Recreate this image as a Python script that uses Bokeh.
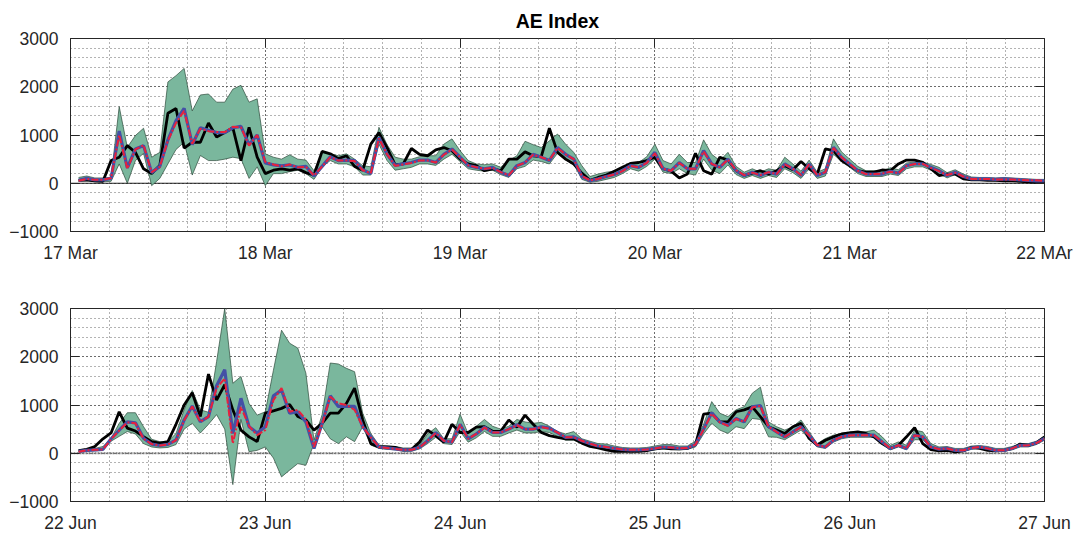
from bokeh.plotting import figure
from bokeh.models import FixedTicker, LinearAxis, Span, Range1d
from bokeh.layouts import column
from bokeh.embed import file_html
from bokeh.resources import INLINE

# ---------------- data ----------------
HOURS = list(range(1, 121))
DAY_TICKS = [0, 24, 48, 72, 96, 120]
MAR_LABELS = ["17 Mar", "18 Mar", "19 Mar", "20 Mar", "21 Mar", "22 MAr"]
JUN_LABELS = ["22 Jun", "23 Jun", "24 Jun", "25 Jun", "26 Jun", "27 Jun"]
Y_TICKS = [-1000, 0, 1000, 2000, 3000]

obs_mar = [60, 70, 50, 40, 470, 540, 780, 640, 300, 200,
           370, 1450, 1550, 730, 850, 850, 1250, 960, 1050, 1150,
           470, 1160, 540, 200, 270, 300, 270, 300, 220, 170,
           660, 610, 510, 570, 350, 270, 810, 1050, 740, 380,
           400, 720, 600, 570, 690, 740, 675, 500, 400, 365,
           260, 300, 260, 500, 500, 650, 570, 550, 1140, 640,
           500, 400, 210, 60, 120, 170, 250, 330, 410, 430,
           470, 540, 300, 250, 110, 190, 620, 260, 190, 540,
           480, 260, 160, 210, 260, 190, 260, 365, 280, 450,
           300, 190, 710, 675, 470, 365, 260, 230, 230, 275,
           260, 400, 480, 480, 435, 300, 160, 190, 190, 90,
           70, 70, 60, 60, 50, 50, 40, 30, 20, 20]
mean_mar = [60, 100, 70, 70, 100, 1080, 320, 710, 780, 220,
            350, 900, 1300, 1550, 800, 1150, 1100, 1050, 1050, 1150,
            1180, 800, 1000, 420, 380, 360, 380, 330, 350, 150,
            350, 550, 470, 480, 470, 280, 200, 950, 600, 370,
            400, 430, 480, 480, 430, 600, 710, 540, 365, 330,
            300, 330, 230, 160, 365, 430, 600, 540, 470, 740,
            600, 500, 140, 55, 90, 140, 180, 260, 365, 330,
            430, 640, 300, 260, 430, 300, 300, 675, 400, 330,
            500, 260, 160, 230, 160, 230, 190, 400, 300, 160,
            400, 160, 230, 745, 540, 400, 260, 190, 190, 190,
            250, 210, 365, 400, 400, 330, 260, 160, 230, 140,
            90, 90, 90, 80, 90, 80, 70, 60, 50, 50]
med_mar = [50, 90, 70, 70, 110, 1000, 300, 700, 790, 230,
           340, 880, 1250, 1500, 820, 1130, 1080, 1060, 1060, 1170,
           1160, 780, 1000, 440, 390, 350, 390, 330, 340, 160,
           350, 540, 470, 470, 460, 270, 210, 930, 600, 360,
           390, 420, 470, 470, 430, 590, 700, 540, 370, 330,
           300, 320, 230, 170, 360, 430, 590, 540, 480, 730,
           600, 500, 150, 60, 90, 140, 180, 250, 360, 330,
           420, 620, 300, 260, 420, 300, 300, 660, 400, 330,
           490, 270, 170, 220, 170, 230, 190, 390, 300, 170,
           390, 170, 230, 730, 540, 400, 260, 190, 190, 200,
           240, 210, 360, 400, 400, 320, 250, 170, 220, 140,
           90, 90, 90, 80, 80, 80, 70, 60, 60, 50]
upper_mar = [120, 150, 110, 110, 120, 1590, 745, 990, 1140, 540,
             640, 2100, 2230, 2380, 1500, 1830, 1850, 1680, 1680, 1950,
             2030, 1680, 1750, 610, 540, 500, 590, 500, 480, 260,
             640, 610, 570, 610, 500, 365, 340, 1160, 800, 540,
             500, 500, 550, 570, 570, 810, 920, 675, 470, 400,
             385, 400, 330, 470, 570, 870, 800, 740, 880, 1020,
             810, 640, 365, 140, 190, 230, 250, 330, 430, 430,
             550, 810, 470, 400, 600, 430, 430, 900, 600, 470,
             640, 350, 230, 300, 230, 300, 270, 540, 400, 250,
             480, 230, 300, 920, 650, 500, 350, 260, 260, 260,
             320, 280, 420, 440, 440, 390, 330, 220, 280, 190,
             130, 120, 120, 110, 120, 110, 100, 90, 80, 80]
lower_mar = [40, 50, 30, 30, 40, 400, 0, 470, 620, -50,
             100, 400, 700, 850, 170, 575, 470, 470, 500, 540,
             510, 100, 340, -50, 200, 200, 240, 270, 200, 80,
             340, 470, 400, 400, 340, 170, 170, 810, 470, 270,
             300, 330, 400, 400, 370, 500, 600, 450, 300, 270,
             250, 270, 180, 120, 300, 350, 480, 450, 400, 620,
             480, 400, 80, 20, 40, 80, 120, 200, 300, 250,
             350, 500, 230, 200, 300, 200, 170, 500, 270, 200,
             380, 180, 100, 160, 100, 160, 120, 300, 220, 100,
             300, 100, 150, 600, 450, 330, 200, 140, 140, 140,
             190, 160, 300, 340, 340, 270, 200, 110, 180, 100,
             60, 60, 60, 50, 60, 50, 40, 30, 30, 30]

obs_jun = [55, 80, 140, 300, 420, 860, 520, 460, 345, 240,
           210, 240, 600, 1000, 1255, 760, 1640, 1100, 1420, 900,
           480, 340, 240, 830, 880, 930, 1010, 760, 690, 480,
           620, 830, 830, 1035, 1350, 690, 200, 130, 130, 120,
           70, 75, 230, 480, 365, 230, 600, 430, 430, 540,
           550, 455, 455, 690, 540, 790, 600, 430, 365, 330,
           300, 300, 210, 140, 110, 70, 40, 40, 40, 40,
           55, 90, 110, 90, 90, 100, 180, 810, 830, 650,
           650, 860, 900, 960, 760, 550, 480, 410, 550, 620,
           305, 165, 270, 340, 400, 420, 445, 410, 340, 200,
           100, 165, 340, 530, 200, 75, 50, 60, 30, 50,
           120, 100, 60, 50, 60, 100, 190, 165, 215, 340]
mean_jun = [40, 60, 70, 80, 300, 480, 650, 630, 310, 190,
            160, 185, 275, 690, 980, 655, 760, 1400, 1730, 410,
            1140, 550, 420, 550, 1190, 1310, 830, 860, 650, 100,
            620, 1190, 970, 970, 970, 550, 340, 130, 110, 90,
            70, 70, 125, 260, 430, 260, 230, 600, 300, 400,
            540, 430, 430, 500, 590, 500, 500, 550, 520, 430,
            330, 340, 260, 200, 150, 130, 100, 80, 70, 70,
            80, 100, 130, 120, 100, 110, 180, 500, 840, 650,
            580, 720, 650, 960, 990, 550, 445, 340, 445, 550,
            375, 165, 130, 270, 340, 375, 375, 375, 375, 235,
            100, 165, 100, 375, 340, 130, 85, 100, 60, 60,
            110, 130, 100, 60, 60, 100, 165, 165, 215, 305]
med_jun = [30, 60, 70, 80, 290, 470, 640, 620, 300, 190,
           160, 180, 270, 680, 970, 650, 760, 1350, 1550, 200,
           960, 560, 375, 480, 1100, 1350, 860, 900, 700, 130,
           600, 1170, 1035, 1000, 900, 550, 330, 130, 110, 90,
           70, 70, 120, 260, 420, 260, 230, 590, 300, 400,
           530, 430, 430, 500, 580, 500, 500, 540, 510, 430,
           330, 330, 260, 200, 150, 130, 100, 80, 70, 70,
           80, 100, 130, 120, 100, 110, 180, 490, 820, 640,
           570, 710, 650, 950, 980, 550, 440, 340, 440, 540,
           370, 170, 130, 270, 340, 370, 375, 375, 375, 240,
           100, 165, 100, 370, 340, 130, 85, 100, 60, 60,
           110, 130, 100, 60, 60, 100, 160, 165, 210, 300]
upper_jun = [70, 90, 100, 140, 310, 620, 840, 840, 550, 290,
             240, 240, 410, 900, 1300, 900, 850, 1900, 3000, 1450,
             1590, 1030, 790, 860, 1720, 2550, 2280, 2180, 1660, 270,
             800, 1870, 1850, 1760, 1690, 830, 410, 170, 150, 140,
             110, 110, 170, 400, 530, 300, 300, 810, 400, 560,
             700, 560, 500, 560, 700, 650, 620, 640, 560, 450,
             400, 450, 300, 250, 200, 190, 150, 120, 110, 110,
             120, 150, 180, 180, 150, 150, 250, 600, 1070, 830,
             760, 900, 965, 1245, 1370, 650, 550, 480, 550, 690,
             445, 200, 305, 375, 410, 445, 445, 445, 480, 340,
             165, 235, 165, 480, 445, 200, 130, 140, 100, 100,
             150, 160, 140, 100, 100, 140, 200, 200, 250, 350]
lower_jun = [20, 40, 50, 60, 250, 350, 450, 400, 200, 130,
             110, 120, 180, 500, 620, 420, 600, 800, 500, -650,
             700, 30, 60, 130, -100, -490, -350, -215, -250, 200,
             550, 300, 200, 340, 240, 550, 170, 100, 80, 70,
             40, 40, 90, 200, 330, 200, 180, 450, 230, 320,
             450, 350, 350, 420, 480, 420, 420, 450, 430, 350,
             270, 270, 200, 150, 110, 90, 60, 50, 40, 40,
             50, 70, 90, 80, 70, 80, 130, 400, 620, 480,
             410, 550, 510, 720, 700, 340, 330, 280, 380, 480,
             300, 130, 100, 230, 300, 330, 330, 330, 330, 200,
             70, 130, 70, 280, 280, 100, 60, 70, 40, 40,
             80, 100, 70, 40, 40, 70, 130, 130, 180, 270]

# ---------------- styling ----------------
FONT = "Liberation Sans"
AX = "#262626"
GREEN = "#7ab79d"
BLUE = "#4450a6"
RED = "#e8213c"


def make_panel(labels, obs, mean, med, lo, hi, top, bottom, zero_style, title=None):
    p = figure(frame_width=974, frame_height=193,
               x_range=Range1d(0, 120), y_range=Range1d(-1000, 3000),
               output_backend="svg", toolbar_location=None,
               min_border_left=70, min_border_right=36,
               min_border_top=top, min_border_bottom=bottom,
               background_fill_color="white", border_fill_color="white")
    if title:
        p.title.text = title
        p.title.align = "center"
        p.title.text_font = FONT
        p.title.text_font_size = "19.5px"
        p.title.text_font_style = "bold"
        p.title.text_color = "#000000"
        p.title.standoff = 5
    p.outline_line_color = AX
    p.outline_line_width = 1

    xt = FixedTicker(ticks=DAY_TICKS, minor_ticks=[i * 4.8 for i in range(26)])
    yt = FixedTicker(ticks=Y_TICKS, minor_ticks=list(range(-1000, 3001, 200)))

    p.xaxis.ticker = xt
    p.xaxis.major_label_overrides = {t: lab for t, lab in zip(DAY_TICKS, labels)}
    p.yaxis.ticker = yt
    for ax in (p.xaxis[0], p.yaxis[0]):
        ax.axis_line_color = AX
        ax.major_tick_line_color = AX
        ax.major_tick_in = 9
        ax.major_tick_out = 0
        ax.minor_tick_line_color = None
        ax.major_label_text_font = FONT
        ax.major_label_text_font_size = "17.5px"
        ax.major_label_text_color = AX
    p.xaxis.major_label_standoff = 7
    p.yaxis.major_label_standoff = 8

    # mirrored ticks on the top and right sides (labels not painted)
    top_ax = LinearAxis(ticker=xt, major_tick_in=9, major_tick_out=0,
                        major_tick_line_color=AX, minor_tick_line_color=None,
                        axis_line_color=None, major_label_text_font_size="2px",
                        major_label_text_color=None, major_label_standoff=0)
    right_ax = LinearAxis(ticker=yt, major_tick_in=9, major_tick_out=0,
                          major_tick_line_color=AX, minor_tick_line_color=None,
                          axis_line_color=None, major_label_text_font_size="2px",
                          major_label_text_color=None, major_label_standoff=0)
    p.add_layout(top_ax, "above")
    p.add_layout(right_ax, "right")

    p.xgrid.ticker = xt
    p.ygrid.ticker = yt
    for g in (p.xgrid[0], p.ygrid[0]):
        g.grid_line_color = "#222222"
        g.grid_line_dash = "1 3"
        g.grid_line_width = 1
        g.minor_grid_line_color = "#666666"
        g.minor_grid_line_dash = "1 3"
        g.minor_grid_line_width = 1

    zcol, zw, zdash = zero_style
    p.add_layout(Span(location=0, dimension="width", line_color=zcol,
                      line_width=zw, line_dash=zdash, level="underlay"))

    p.varea(x=HOURS, y1=lo, y2=hi, fill_color=GREEN, fill_alpha=1)
    p.line(HOURS, hi, line_color="#2c4a3b", line_width=0.7)
    p.line(HOURS, lo, line_color="#2c4a3b", line_width=0.7)
    p.line(HOURS, obs, line_color="#000000", line_width=2.8)
    p.line(HOURS, mean, line_color=BLUE, line_width=3.2)
    p.line(HOURS, med, line_color=RED, line_width=2.0, line_dash="7 2 2 2")
    return p


p_top = make_panel(MAR_LABELS, obs_mar, mean_mar, med_mar, lower_mar, upper_mar,
                   top=38, bottom=40, zero_style=("#222222", 1, "solid"),
                   title="AE Index")
p_bot = make_panel(JUN_LABELS, obs_jun, mean_jun, med_jun, lower_jun, upper_jun,
                   top=37, bottom=31, zero_style=("#777777", 2, "2 1"))

layout = column(p_top, p_bot, spacing=0)
open("out.html", "w").write(file_html(layout, INLINE))
